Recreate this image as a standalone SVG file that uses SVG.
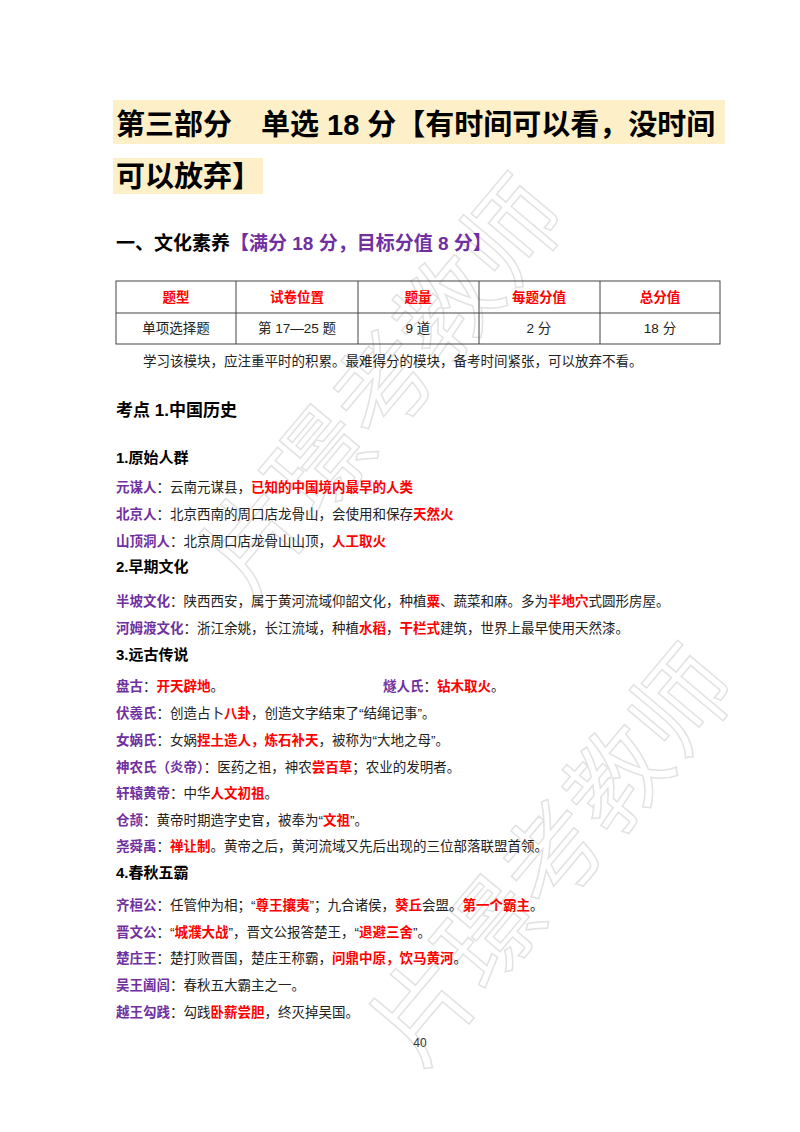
<svg xmlns="http://www.w3.org/2000/svg" width="800" height="1132" viewBox="0 0 800 1132">
<style>
text{font-family:"Liberation Sans","Noto Sans CJK SC",sans-serif;}
.t{font-size:13.5px;fill:#222;}
.p{fill:#7030a0;font-weight:bold;}
.r{fill:#ff0000;font-weight:bold;}
.h{font-size:15px;font-weight:bold;fill:#000;}
.wm{font-size:100px;fill:none;stroke:#e2e2e2;stroke-width:1.5;}
.th{font-size:13.5px;fill:#ff0000;font-weight:bold;}
</style>
<rect width="800" height="1132" fill="#fff"/>
<g id="watermark">
<text class="wm" transform="translate(250,600) rotate(-50)">片璟考教师</text>
<text class="wm" transform="translate(420,1070) rotate(-50)">片璟考教师</text>
</g>
<g id="title">
<rect x="113" y="100" width="612" height="44" fill="#fdf0c8"/>
<rect x="113" y="158" width="150" height="36" fill="#fdf0c8"/>
<text x="116" y="135" font-size="29" font-weight="bold" fill="#000">第三部分　单选 18 分【有时间可以看，没时间</text>
<text x="116" y="187" font-size="29" font-weight="bold" fill="#000">可以放弃】</text>
</g>
<text x="116" y="250" font-size="19" font-weight="bold" fill="#000">一、文化素养<tspan fill="#7030a0">【满分 18 分，目标分值 8 分】</tspan></text>
<g id="table" fill="none" stroke="#444" stroke-width="1">
<rect x="116" y="281" width="604" height="63"/>
<line x1="116" y1="313" x2="720" y2="313"/>
<line x1="236" y1="281" x2="236" y2="344"/>
<line x1="358" y1="281" x2="358" y2="344"/>
<line x1="479" y1="281" x2="479" y2="344"/>
<line x1="600" y1="281" x2="600" y2="344"/>
</g>
<g text-anchor="middle">
<text class="th" x="176" y="302">题型</text>
<text class="th" x="297" y="302">试卷位置</text>
<text class="th" x="418" y="302">题量</text>
<text class="th" x="539" y="302">每题分值</text>
<text class="th" x="660" y="302">总分值</text>
<text class="t" x="176" y="333">单项选择题</text>
<text class="t" x="297" y="333">第 17—25 题</text>
<text class="t" x="418" y="333">9 道</text>
<text class="t" x="539" y="333">2 分</text>
<text class="t" x="660" y="333">18 分</text>
</g>
<text class="t" x="143" y="366">学习该模块，应注重平时的积累。最难得分的模块，备考时间紧张，可以放弃不看。</text>
<text x="116" y="416" font-size="17" font-weight="bold" fill="#000">考点 1.中国历史</text>
<g id="body">
<text class="h" x="116" y="463">1.原始人群</text>
<text class="t" x="116" y="492"><tspan class="p">元谋人</tspan>：云南元谋县，<tspan class="r">已知的中国境内最早的人类</tspan></text>
<text class="t" x="116" y="519"><tspan class="p">北京人</tspan>：北京西南的周口店龙骨山，会使用和保存<tspan class="r">天然火</tspan></text>
<text class="t" x="116" y="546"><tspan class="p">山顶洞人</tspan>：北京周口店龙骨山山顶，<tspan class="r">人工取火</tspan></text>
<text class="h" x="116" y="572">2.早期文化</text>
<text class="t" x="116" y="606"><tspan class="p">半坡文化</tspan>：陕西西安，属于黄河流域仰韶文化，种植<tspan class="r">粟</tspan>、蔬菜和麻。多为<tspan class="r">半地穴</tspan>式圆形房屋。</text>
<text class="t" x="116" y="633"><tspan class="p">河姆渡文化</tspan>：浙江余姚，长江流域，种植<tspan class="r">水稻</tspan>，<tspan class="r">干栏式</tspan>建筑，世界上最早使用天然漆。</text>
<text class="h" x="116" y="660">3.远古传说</text>
<text class="t" x="116" y="691"><tspan class="p">盘古</tspan>：<tspan class="r">开天辟地</tspan>。</text>
<text class="t" x="383" y="691"><tspan class="p">燧人氏</tspan>：<tspan class="r">钻木取火</tspan>。</text>
<text class="t" x="116" y="718"><tspan class="p">伏羲氏</tspan>：创造占卜<tspan class="r">八卦</tspan>，创造文字结束了“结绳记事”。</text>
<text class="t" x="116" y="745"><tspan class="p">女娲氏</tspan>：女娲<tspan class="r">捏土造人，炼石补天</tspan>，被称为“大地之母”。</text>
<text class="t" x="116" y="772"><tspan class="p">神农氏（炎帝）</tspan>：医药之祖，神农<tspan class="r">尝百草</tspan>；农业的发明者。</text>
<text class="t" x="116" y="798"><tspan class="p">轩辕黄帝</tspan>：中华<tspan class="r">人文初祖</tspan>。</text>
<text class="t" x="116" y="825"><tspan class="p">仓颉</tspan>：黄帝时期造字史官，被奉为“<tspan class="r">文祖</tspan>”。</text>
<text class="t" x="116" y="851"><tspan class="p">尧舜禹</tspan>：<tspan class="r">禅让制</tspan>。黄帝之后，黄河流域又先后出现的三位部落联盟首领。</text>
<text class="h" x="116" y="878">4.春秋五霸</text>
<text class="t" x="116" y="910"><tspan class="p">齐桓公</tspan>：任管仲为相；“<tspan class="r">尊王攘夷</tspan>”；九合诸侯，<tspan class="r">葵丘</tspan>会盟。<tspan class="r">第一个霸主</tspan>。</text>
<text class="t" x="116" y="937"><tspan class="p">晋文公</tspan>：“<tspan class="r">城濮大战</tspan>”，晋文公报答楚王，“<tspan class="r">退避三舍</tspan>”。</text>
<text class="t" x="116" y="963"><tspan class="p">楚庄王</tspan>：楚打败晋国，楚庄王称霸，<tspan class="r">问鼎中原，饮马黄河</tspan>。</text>
<text class="t" x="116" y="990"><tspan class="p">吴王阖闾</tspan>：春秋五大霸主之一。</text>
<text class="t" x="116" y="1017"><tspan class="p">越王勾践</tspan>：勾践<tspan class="r">卧薪尝胆</tspan>，终灭掉吴国。</text>
</g>
<text x="420" y="1047" font-size="12" fill="#333" text-anchor="middle">40</text>
</svg>
